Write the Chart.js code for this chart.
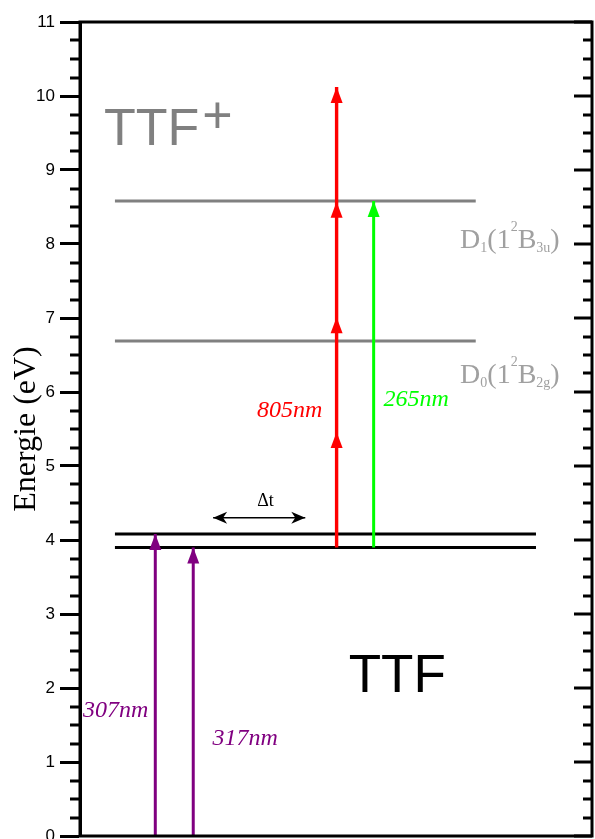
<!DOCTYPE html>
<html><head><meta charset="utf-8">
<script src="https://cdn.jsdelivr.net/npm/chart.js@4.4.1/dist/chart.umd.min.js"></script>
<style>html,body{margin:0;padding:0;background:#fff}</style>
</head><body>
<canvas id="c" width="595" height="839"></canvas>
<script>
// ---------- data (energies in eV) ----------
const yTickValues = [0,1,2,3,4,5,6,7,8,9,10,11];
const cationLevels = [6.69, 8.58];                 // D0, D1
const cationLevelNames = [
  [['D','n'],['0','sub'],['(1','n'],['2','sup'],['B','n'],['2g','sub'],[')','n']],
  [['D','n'],['1','sub'],['(1','n'],['2','sup'],['B','n'],['3u','sub'],[')','n']]
];
const neutralLevels = [3.90, 4.08];
const pumpLabels = ['307nm', '317nm'];
const pumpTops = [4.08, 3.90];
const probeStart = 3.90;
const redLabel = '805nm';
const redHeads = [5.46, 7.01, 8.57, 10.12];
const greenLabel = '265nm';
const greenTop = 8.58;
const cationName = 'TTF';
const neutralName = 'TTF';
const delayName = '\u0394t';

// ---------- horizontal layout (arbitrary x units) ----------
const X_MAX = 8.5;
const cationSpan = [0.58, 6.57];
const neutralSpan = [0.58, 7.57];
const pumpX = [1.25, 1.88];
const redX = 4.26, greenX = 4.875;
const delaySpan = [2.21, 3.74], delayY = 4.30;

const PURPLE = '#800080', RED = '#ff0000', GREEN = '#00ff00', GREY = '#808080', LGREY = '#a0a0a0';
const SERIF = '"Liberation Serif", "Times New Roman", serif';
const SANS = '"Liberation Sans", Arial, sans-serif';

function seg(x1, y1, x2, y2) { return [{x:x1, y:y1}, {x:x2, y:y2}]; }
const base = {showLine:true, pointRadius:0, borderCapStyle:'butt', clip:false, fill:false};

const datasets = [];
cationLevels.forEach(v => datasets.push({...base, data: seg(cationSpan[0], v, cationSpan[1], v), borderColor: GREY, borderWidth: 3, order: 2}));
neutralLevels.forEach(v => datasets.push({...base, data: seg(neutralSpan[0], v, neutralSpan[1], v), borderColor: '#000', borderWidth: 3, order: 2}));
pumpTops.forEach((v, i) => datasets.push({...base, data: seg(pumpX[i], 0, pumpX[i], v), borderColor: PURPLE, borderWidth: 3, order: 1}));
datasets.push({...base, data: seg(redX, probeStart, redX, redHeads[redHeads.length-1]), borderColor: RED, borderWidth: 3.4, order: 1});
datasets.push({...base, data: seg(greenX, probeStart, greenX, greenTop), borderColor: GREEN, borderWidth: 3, order: 1});
datasets.push({...base, data: seg(delaySpan[0], delayY, delaySpan[1], delayY), borderColor: '#000', borderWidth: 1.5, order: 1});

// arrowheads (pointing up), in data coords
const upHeads = [];
pumpTops.forEach((v, i) => upHeads.push({x: pumpX[i], y: v, c: PURPLE}));
redHeads.forEach(v => upHeads.push({x: redX, y: v, c: RED}));
upHeads.push({x: greenX, y: greenTop, c: GREEN});

// text labels: text, x, y(baseline), font, color
const labels = [
  {t: pumpLabels[0], x: 0.05, y: 1.61, f: 'italic 24px ' + SERIF, c: PURPLE},
  {t: pumpLabels[1], x: 2.20, y: 1.23, f: 'italic 24px ' + SERIF, c: PURPLE},
  {t: redLabel, x: 2.94, y: 5.66, f: 'italic 24px ' + SERIF, c: RED},
  {t: greenLabel, x: 5.04, y: 5.81, f: 'italic 24px ' + SERIF, c: GREEN},
  {t: delayName, x: 3.08, y: 4.46, f: '18px ' + SERIF, c: '#000', a: 'center'},
  {t: neutralName, x: 4.46, y: 1.95, f: '53px ' + SANS, c: '#000'},
  {t: cationName, x: 0.40, y: 9.34, f: '52px ' + SANS, c: GREY},
  {t: '+', x: 2.03, y: 9.50, f: '52px ' + SANS, c: GREY},
];
const runLabels = [
  {runs: cationLevelNames[0], x: 6.31, y: 6.12},
  {runs: cationLevelNames[1], x: 6.31, y: 7.95},
];

const overlay = {
  id: 'overlay',
  afterDatasetsDraw(chart) {
    const ctx = chart.ctx, xs = chart.scales.x, ys = chart.scales.y;
    ctx.save();
    upHeads.forEach(h => {
      const px = xs.getPixelForValue(h.x), py = ys.getPixelForValue(h.y);
      ctx.fillStyle = h.c;
      ctx.beginPath();
      ctx.moveTo(px, py);
      ctx.lineTo(px - 6, py + 16);
      ctx.lineTo(px + 6, py + 16);
      ctx.closePath();
      ctx.fill();
    });
    const dy = ys.getPixelForValue(delayY);
    [[delaySpan[0], 1], [delaySpan[1], -1]].forEach(([xv, d]) => {
      const px = xs.getPixelForValue(xv);
      ctx.fillStyle = '#000';
      ctx.beginPath();
      ctx.moveTo(px, dy);
      ctx.lineTo(px + d * 14, dy - 6);
      ctx.lineTo(px + d * 10, dy);
      ctx.lineTo(px + d * 14, dy + 6);
      ctx.closePath();
      ctx.fill();
    });
    ctx.textBaseline = 'alphabetic';
    labels.forEach(l => {
      ctx.font = l.f; ctx.fillStyle = l.c; ctx.textAlign = l.a || 'left';
      ctx.fillText(l.t, xs.getPixelForValue(l.x), ys.getPixelForValue(l.y));
    });
    ctx.textAlign = 'left';
    runLabels.forEach(r => {
      let px = xs.getPixelForValue(r.x);
      const py = ys.getPixelForValue(r.y);
      ctx.fillStyle = LGREY;
      r.runs.forEach(([t, k]) => {
        let yy = py;
        if (k === 'n') ctx.font = '28px ' + SERIF;
        else { ctx.font = '14px ' + SERIF; yy = py + (k === 'sub' ? 4 : -17); }
        ctx.fillText(t, px, yy);
        px += ctx.measureText(t).width;
      });
    });
    ctx.restore();
  },
  afterDraw(chart) {
    const ctx = chart.ctx, a = chart.chartArea, ys = chart.scales.y;
    ctx.save();
    ctx.strokeStyle = '#000'; ctx.lineWidth = 3;
    ctx.strokeRect(a.left, a.top, a.right - a.left, a.bottom - a.top);
    ctx.fillStyle = '#000';
    for (let i = 0; i <= 44; i++) {
      const v = i / 4;
      const py = Math.round(ys.getPixelForValue(v));
      const major = i % 4 === 0;
      if (!major) ctx.fillRect(a.left - 10, py - 1.5, 10, 3);
      const len = major ? 18 : 9;
      ctx.fillRect(a.right - len, py - 1.5, len, 3);
    }
    ctx.restore();
  }
};

new Chart(document.getElementById('c'), {
  type: 'scatter',
  data: { datasets },
  plugins: [overlay],
  options: {
    responsive: false, animation: false,
    layout: { padding: { left: 0, right: 3, top: 22, bottom: 0 } },
    plugins: { legend: { display: false }, tooltip: { enabled: false } },
    scales: {
      x: {
        type: 'linear', min: 0, max: X_MAX,
        ticks: { display: false }, grid: { display: false }, border: { display: false },
        afterFit(s) { s.height = 3; s.paddingLeft = 0; s.paddingRight = 0; }
      },
      y: {
        type: 'linear', min: 0, max: 11,
        afterBuildTicks(s) { s.ticks = yTickValues.map(v => ({value: v})); },
        ticks: { font: { family: SANS, size: 17 }, color: '#000', padding: 5, autoSkip: false },
        grid: { drawOnChartArea: false, drawTicks: true, tickLength: 20, tickWidth: 3, tickColor: '#000' },
        border: { display: true, width: 3, color: '#000' },
        title: { display: true, text: 'Energie (eV)', font: { family: SERIF, size: 32 }, color: '#000', padding: { top: 7, bottom: 0 } },
        afterFit(s) { s.width = 80; s.paddingTop = 0; s.paddingBottom = 0; }
      }
    }
  }
});
</script>
</body></html>
